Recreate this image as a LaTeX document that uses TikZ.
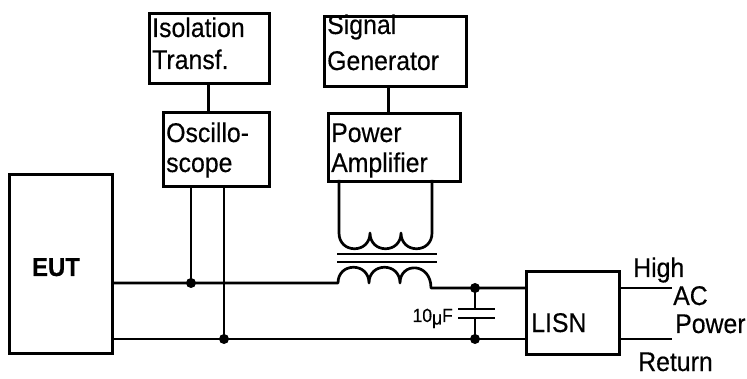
\documentclass[tikz,border=0pt]{standalone}
\usepackage{fontspec}
\setmainfont[FakeStretch=0.92,FakeBold=0.35]{Liberation Sans}
\begin{document}
\begin{tikzpicture}[x=1pt,y=-1pt,
  box/.style={draw, line width=2.7pt, anchor=north west, inner sep=0pt},
  lbl/.style={anchor=base west, inner sep=0pt, font=\fontsize{27}{30}\selectfont},
  wire/.style={line width=2.7pt}]
\useasboundingbox (0,0) rectangle (747,379);
% boxes
\node[box, minimum width=120pt, minimum height=70pt] (iso) at (148,12) {};
\node[box, minimum width=106pt, minimum height=74pt] (osc) at (162,111) {};
\node[box, minimum width=142pt, minimum height=70pt] (sg) at (323,15) {};
\node[box, minimum width=132pt, minimum height=68pt] (pa) at (327,112) {};
\node[box, minimum width=103pt, minimum height=179pt] (eut) at (8,173) {};
\node[box, minimum width=93pt, minimum height=83pt] (lisn) at (525,270) {};
% texts
\node[lbl] (t1) at (152,37) {Isolation};
\node[lbl] (t2) at (152,69) {Transf.};
\node[lbl] (t3) at (166,142) {Oscillo-};
\node[lbl] (t4) at (166,172) {scope};
\node[lbl] (t5) at (327,34) {Signal};
\node[lbl] (t6) at (327,70) {Generator};
\node[lbl] (t7) at (331,142) {Power};
\node[lbl] (t8) at (331,172) {Amplifier};
\node[anchor=base, inner sep=0pt, font=\fontsize{26}{30}\selectfont\bfseries] (t9) at (56,276) {EUT};
\node[lbl] (t10) at (531,332) {LISN};
\node[lbl] (t11) at (633,277) {High};
\node[lbl] (t12) at (673,305) {AC};
\node[lbl] (t13) at (675,333) {Power};
\node[lbl] (t14) at (638,371) {Return};
\node[anchor=base east, inner sep=0pt, font=\fontsize{19}{20}\selectfont] (t15) at (453,322) {10\raisebox{-2.5pt}{μ}F};
% junctions
\coordinate (j1) at (191,283);
\coordinate (j2) at (224,339);
\coordinate (c1) at (475,288);
\coordinate (c2) at (475,339);
\coordinate (hi) at (672,288);
\coordinate (ret) at (672,339);
% box links
\draw[wire] ([xshift=-1pt]iso.south) -- ([xshift=-8pt]osc.north);
\draw[wire] ([xshift=-7pt]sg.south) -- ([xshift=-6pt]pa.north);
% oscilloscope probes
\draw[wire] (osc.south -| j1) -- (j1);
\draw[wire] (osc.south -| j2) -- (j2);
% transformer upper coil
\draw[wire, line join=round] (339,180) -- (339,233)
  .. controls (339,254) and (370,254) .. (370,233)
  .. controls (370,254) and (401,254) .. (401,233)
  .. controls (401,254) and (432,254) .. (432,233) -- (432,180);
% core
\draw[wire] (337,254) -- (437,254);
\draw[wire] (337,262) -- (437,262);
% top wire with lower coil
\draw[wire, line join=round] (eut.east |- j1) -- (j1) -- (338,283)
  .. controls (338,262) and (369,262) .. (369,283)
  .. controls (369,262) and (400,262) .. (400,283)
  .. controls (400,262) and (431,262) .. (431,288)
  -- (c1) -- (lisn.west |- c1);
% bottom wire
\draw[wire] (eut.east |- j2) -- (j2) -- (c2) -- (lisn.west |- c2);
% capacitor
\draw[wire] (c1) -- (475,309);
\draw[wire] (458,309) -- (495,309);
\draw[wire] (458,318) -- (495,318);
\draw[wire] (475,318) -- (c2);
% mains
\draw[wire] (lisn.east |- hi) -- (hi);
\draw[wire] (lisn.east |- ret) -- (ret);
% dots
\fill (j1) circle (5pt);
\fill (j2) circle (5pt);
\fill (c1) circle (5pt);
\fill (c2) circle (5pt);
\end{tikzpicture}
\end{document}
